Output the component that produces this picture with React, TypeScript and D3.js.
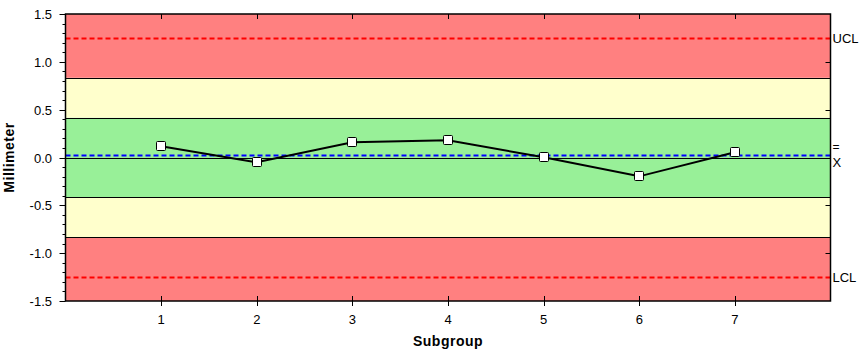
import React, { useEffect, useRef } from 'react';
import * as d3 from 'd3';

// subgroup measurements (mm)
const subgroups = [1, 2, 3, 4, 5, 6, 7];
const values = [0.117, -0.05, 0.159, 0.18, 0.002, -0.197, 0.054];

const ucl = 1.25;
const lcl = -1.25;
const centerLine = 0.027;
// zone boundaries (1 and 2 sigma)
const zoneEdges = [-1.5, -0.833, -0.417, 0.417, 0.833, 1.5];
const zoneColors = ['#ff8080', '#ffffcc', '#98f098', '#ffffcc', '#ff8080'];
const yTicks = [-1.5, -1.0, -0.5, 0.0, 0.5, 1.0, 1.5];

const W = 865;
const H = 354;

const App = () => {
  const svgRef = useRef<SVGSVGElement>(null);

  useEffect(() => {
    const svg = d3.select(svgRef.current);
    svg.selectAll('*').remove();

    const left = 65.5;
    const right = 830.5;
    const top = 14;
    const bottom = 301;

    const x = d3.scaleLinear().domain([0, 8]).range([left, right]);
    const y = d3.scaleLinear().domain([-1.5, 1.5]).range([bottom, top]);
    const font = 'Arial, "Liberation Sans", sans-serif';

    // colored zones
    svg.append('g')
      .selectAll('rect')
      .data(zoneColors)
      .enter()
      .append('rect')
      .attr('x', left)
      .attr('width', right - left)
      .attr('y', (_, i) => y(zoneEdges[i + 1]))
      .attr('height', (_, i) => y(zoneEdges[i]) - y(zoneEdges[i + 1]))
      .attr('fill', d => d);

    // zone borders + zero line
    svg.append('g')
      .selectAll('line')
      .data([...zoneEdges.slice(1, -1), 0])
      .enter()
      .append('line')
      .attr('x1', left)
      .attr('x2', right)
      .attr('y1', d => Math.round(y(d)) + 0.5)
      .attr('y2', d => Math.round(y(d)) + 0.5)
      .attr('stroke', 'black')
      .attr('stroke-width', 1);

    // control limits
    svg.append('g')
      .selectAll('line')
      .data([ucl, lcl])
      .enter()
      .append('line')
      .attr('x1', left)
      .attr('x2', right)
      .attr('y1', d => Math.round(y(d)) + 0.5)
      .attr('y2', d => Math.round(y(d)) + 0.5)
      .attr('stroke', '#ff0000')
      .attr('stroke-width', 2)
      .attr('stroke-dasharray', '5,3');

    svg.append('line')
      .attr('x1', left)
      .attr('x2', right)
      .attr('y1', Math.round(y(centerLine)) + 0.5)
      .attr('y2', Math.round(y(centerLine)) + 0.5)
      .attr('stroke', '#0000ff')
      .attr('stroke-width', 2)
      .attr('stroke-dasharray', '5,3');

    // frame
    svg.append('rect')
      .attr('x', left)
      .attr('y', top)
      .attr('width', right - left)
      .attr('height', bottom - top)
      .attr('fill', 'none')
      .attr('stroke', 'black')
      .attr('stroke-width', 1.5);

    // left axis ticks
    const minor = d3.range(-15, 16).map(d => d / 10);
    svg.append('g')
      .selectAll('line')
      .data(minor)
      .enter()
      .append('line')
      .attr('x1', d => (Math.abs(d * 2 - Math.round(d * 2)) < 1e-6 ? left - 6 : left - 3))
      .attr('x2', left)
      .attr('y1', d => Math.round(y(d)) + 0.5)
      .attr('y2', d => Math.round(y(d)) + 0.5)
      .attr('stroke', 'black');

    // right axis ticks (inside)
    svg.append('g')
      .selectAll('line')
      .data(yTicks.slice(1, -1))
      .enter()
      .append('line')
      .attr('x1', right - 5)
      .attr('x2', right)
      .attr('y1', d => Math.round(y(d)) + 0.5)
      .attr('y2', d => Math.round(y(d)) + 0.5)
      .attr('stroke', 'black');

    svg.append('g')
      .selectAll('text')
      .data(yTicks)
      .enter()
      .append('text')
      .attr('x', 52)
      .attr('y', d => y(d) + 5)
      .attr('text-anchor', 'end')
      .attr('font-family', font)
      .attr('font-size', 13)
      .text(d => d.toFixed(1));

    // x ticks
    svg.append('g')
      .selectAll('line')
      .data(subgroups)
      .enter()
      .append('line')
      .attr('x1', d => Math.round(x(d)) + 0.5)
      .attr('x2', d => Math.round(x(d)) + 0.5)
      .attr('y1', bottom - 5)
      .attr('y2', bottom + 5)
      .attr('stroke', 'black');

    svg.append('g')
      .selectAll('line')
      .data(subgroups)
      .enter()
      .append('line')
      .attr('x1', d => Math.round(x(d)) + 0.5)
      .attr('x2', d => Math.round(x(d)) + 0.5)
      .attr('y1', top)
      .attr('y2', top + 5)
      .attr('stroke', 'black');

    svg.append('g')
      .selectAll('text')
      .data(subgroups)
      .enter()
      .append('text')
      .attr('x', d => x(d))
      .attr('y', bottom + 23)
      .attr('text-anchor', 'middle')
      .attr('font-family', font)
      .attr('font-size', 13)
      .text(d => d);

    // data line
    const line = d3.line<number>()
      .x((_, i) => x(subgroups[i]))
      .y(d => y(d));

    svg.append('path')
      .datum(values)
      .attr('d', line)
      .attr('fill', 'none')
      .attr('stroke', 'black')
      .attr('stroke-width', 2);

    svg.append('g')
      .selectAll('rect')
      .data(values)
      .enter()
      .append('rect')
      .attr('x', (_, i) => Math.round(x(subgroups[i])) - 4.5)
      .attr('y', d => Math.round(y(d)) - 4.5)
      .attr('width', 9)
      .attr('height', 9)
      .attr('rx', 1)
      .attr('fill', 'white')
      .attr('stroke', 'black')
      .attr('stroke-width', 1);

    // right-side labels
    const labels = [
      { t: 'UCL', v: ucl, dy: 5 },
      { t: 'LCL', v: lcl, dy: 5 },
      { t: '=', v: centerLine, dy: -4 },
      { t: 'X', v: centerLine, dy: 12 },
    ];
    svg.append('g')
      .selectAll('text')
      .data(labels)
      .enter()
      .append('text')
      .attr('x', right + 2)
      .attr('y', d => y(d.v) + d.dy)
      .attr('font-family', font)
      .attr('font-size', d => (d.t === '=' ? 12 : 13))
      .text(d => d.t);

    // axis titles
    svg.append('text')
      .attr('x', x(4))
      .attr('y', 346)
      .attr('text-anchor', 'middle')
      .attr('font-family', font)
      .attr('font-size', 14)
      .attr('font-weight', 'bold')
      .attr('letter-spacing', 0.5)
      .text('Subgroup');

    svg.append('text')
      .attr('transform', `translate(14,${y(0)}) rotate(-90)`)
      .attr('text-anchor', 'middle')
      .attr('font-family', font)
      .attr('font-size', 14)
      .attr('font-weight', 'bold')
      .attr('letter-spacing', 0.5)
      .text('Millimeter');
  }, []);

  return (
    <svg
      ref={svgRef}
      width={W}
      height={H}
      style={{ position: 'absolute', left: 0, top: 0, background: 'white' }}
    />
  );
};

export default App;
